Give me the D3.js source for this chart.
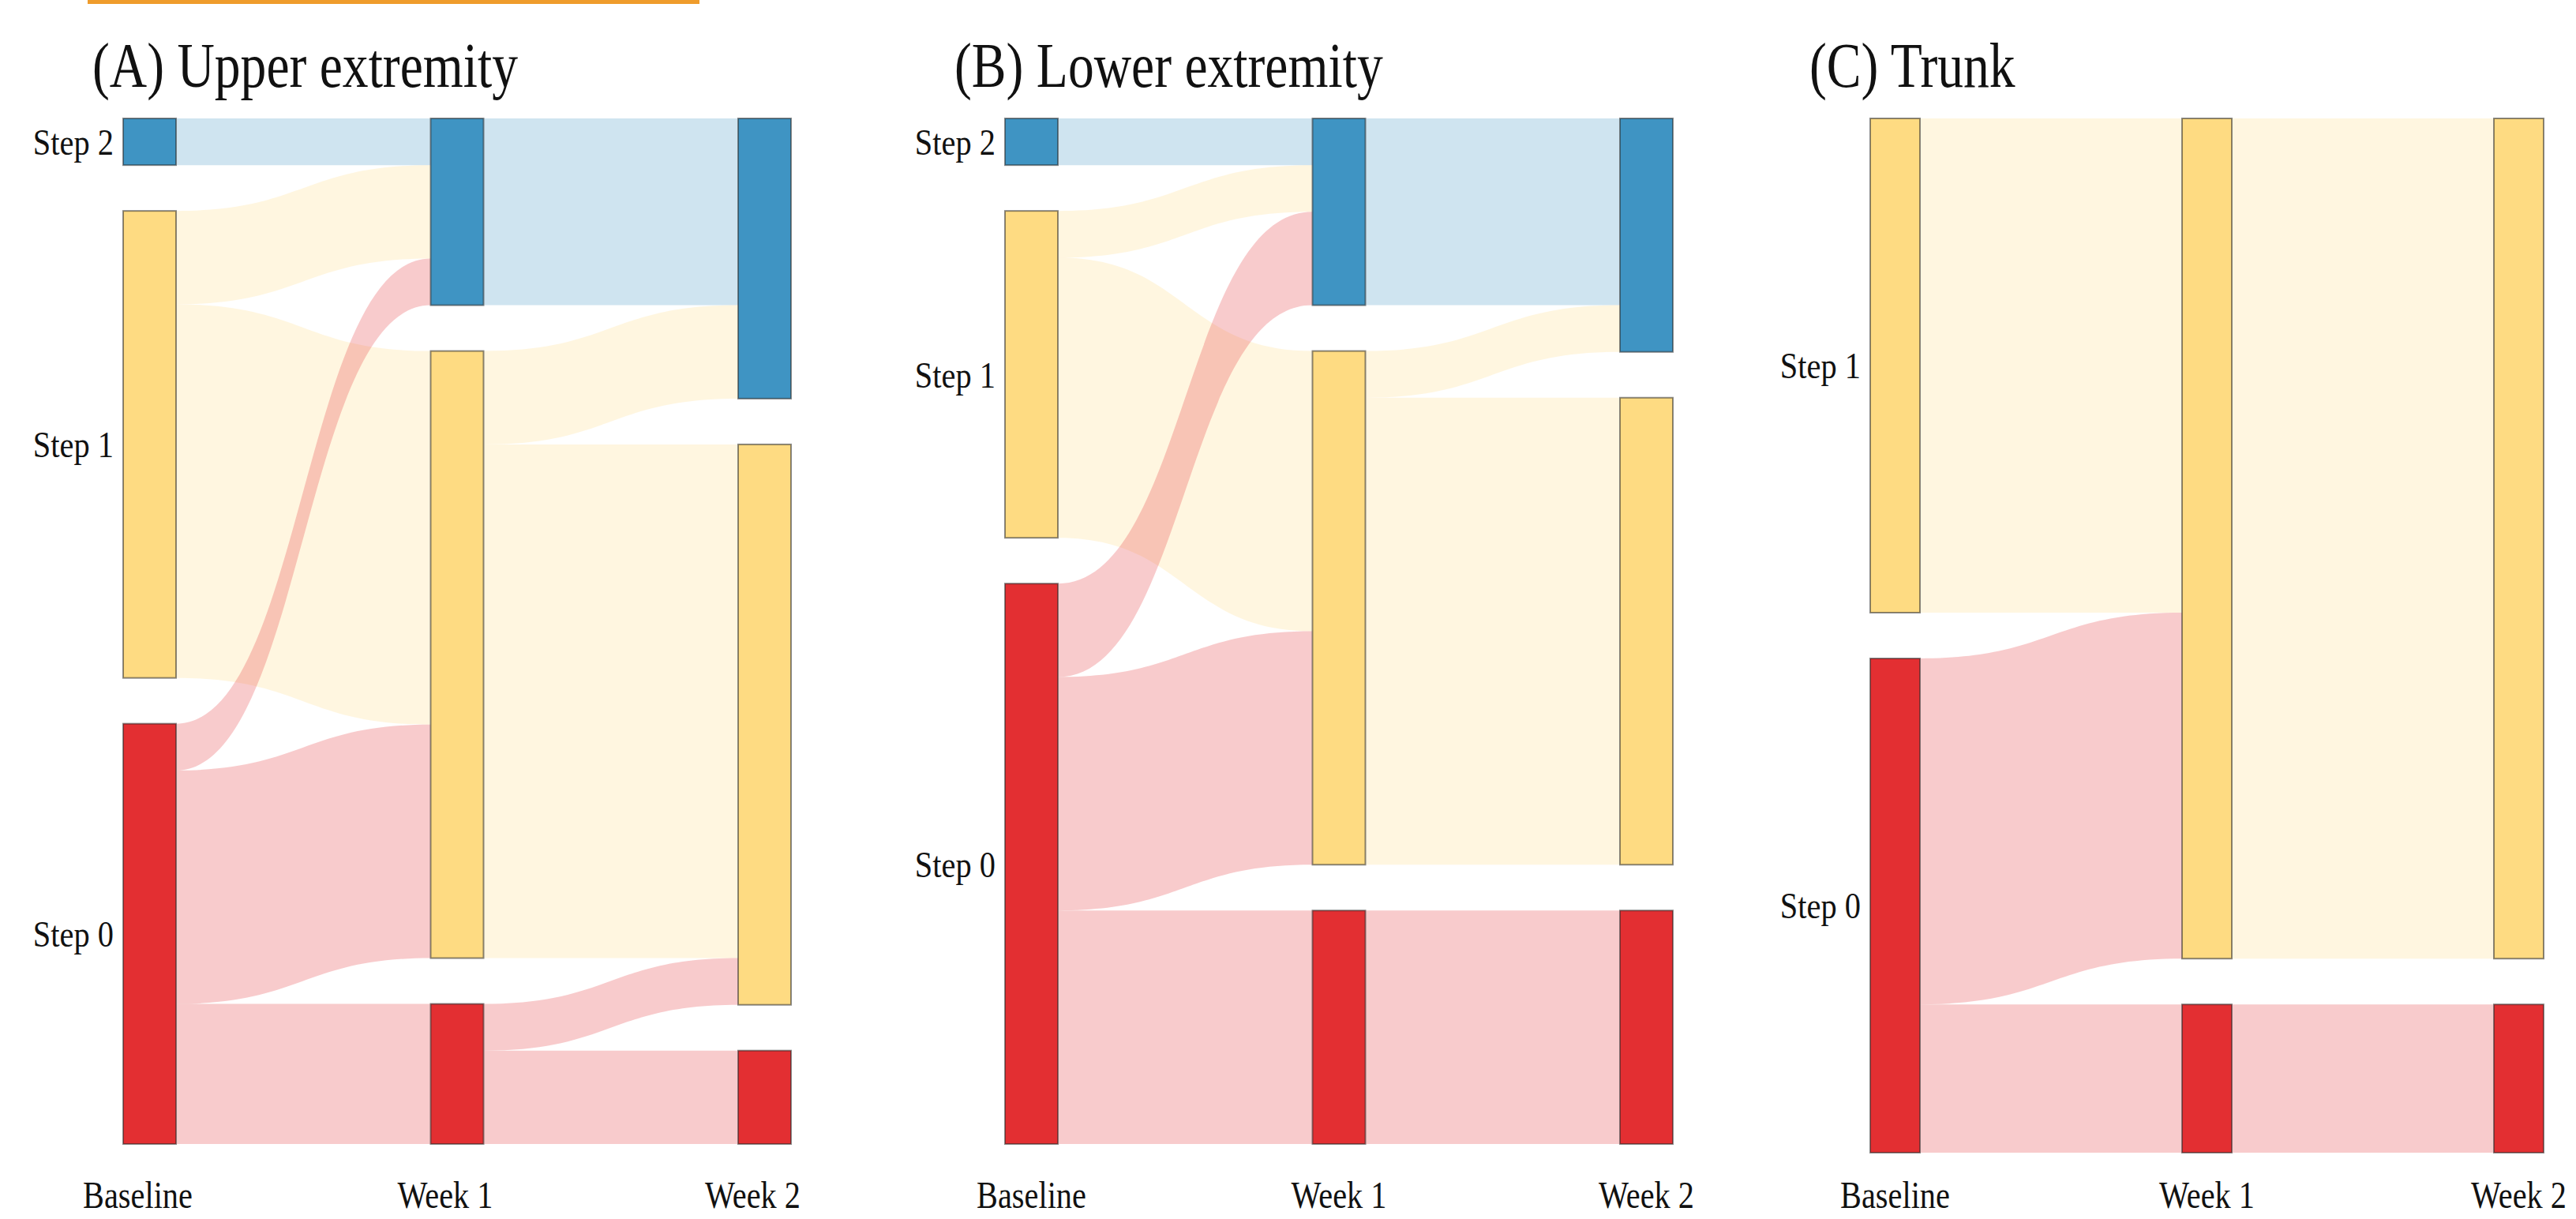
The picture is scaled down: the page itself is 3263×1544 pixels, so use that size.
<!DOCTYPE html>
<html>
<head>
<meta charset="utf-8">
<script src="https://cdn.jsdelivr.net/npm/d3@7"></script>
<style>
  body { margin: 0; background: #fff; }
</style>
</head>
<body>
<div id="chart"></div>
<script>
// columns and categories
var stages = ["Baseline", "Week 1", "Week 2"];
var steps = ["Step 2", "Step 1", "Step 0"];
var panelTitles = ["(A) Upper extremity", "(B) Lower extremity", "(C) Trunk"];

// transition counts: rows = from step (2,1,0), cols = to step (2,1,0)
var upperBaselineToWeek1 = [[2, 0, 0], [4, 16, 0], [2, 10, 6]];
var upperWeek1ToWeek2    = [[8, 0, 0], [4, 22, 0], [0, 2, 4]];
var lowerBaselineToWeek1 = [[2, 0, 0], [2, 12, 0], [4, 10, 10]];
var lowerWeek1ToWeek2    = [[8, 0, 0], [2, 20, 0], [0, 0, 10]];
var trunkBaselineToWeek1 = [[0, 0, 0], [0, 20, 0], [0, 14, 6]];
var trunkWeek1ToWeek2    = [[0, 0, 0], [0, 34, 0], [0, 0, 6]];

// colours per step
var nodeColors = ["#3f94c3", "#fedb82", "#e32f32"];

var width = 3263, height = 1544;
var serif = "'Liberation Serif', 'Times New Roman', Times, 'DejaVu Serif', serif";

// where each panel sits on the page
var panels = [
  { title: panelTitles[0], flows: [upperBaselineToWeek1, upperWeek1ToWeek2],
    left: 156, right: 935, nodeWidth: 67, top: 150, bottom: 1449, titleX: 117, labelDx: -15 },
  { title: panelTitles[1], flows: [lowerBaselineToWeek1, lowerWeek1ToWeek2],
    left: 1273, right: 2052, nodeWidth: 67, top: 150, bottom: 1449, titleX: 1209, labelDx: 0 },
  { title: panelTitles[2], flows: [trunkBaselineToWeek1, trunkWeek1ToWeek2],
    left: 2369, right: 3159, nodeWidth: 63, top: 150, bottom: 1460, titleX: 2292, labelDx: 0 }
];
var nodePad = 58;

var svg = d3.select("#chart")
  .append("svg")
  .attr("width", width)
  .attr("height", height);

svg.append("rect").attr("width", width).attr("height", height).attr("fill", "#fff");

// orange rule at the very top
svg.append("rect")
  .attr("x", 111).attr("y", 0)
  .attr("width", 775).attr("height", 5)
  .attr("fill", "#ef9c2c");

panels.forEach(function(p) {
  var g = svg.append("g");

  // node values for each column
  var colValues = stages.map(function(s, c) {
    return steps.map(function(st, i) {
      if (c < stages.length - 1) return d3.sum(p.flows[c][i]);
      return d3.sum(p.flows[c - 1], function(row) { return row[i]; });
    });
  });

  var total = d3.sum(colValues[0]);
  var maxNodes = d3.max(colValues, function(v) { return v.filter(function(d) { return d > 0; }).length; });

  var x = d3.scalePoint().domain(stages).range([p.left, p.right]);
  var y = d3.scaleLinear()
    .domain([0, total])
    .range([0, (p.bottom - p.top) - (maxNodes - 1) * nodePad]);

  // stack nodes in each column
  var nodes = {};
  stages.forEach(function(s, c) {
    var y0 = p.top;
    steps.forEach(function(st, i) {
      var v = colValues[c][i];
      if (v <= 0) return;
      nodes[c + "-" + i] = { col: c, step: i, value: v, x0: x(s), x1: x(s) + p.nodeWidth,
                             y0: y0, y1: y0 + y(v), outY: y0, inY: y0 };
      y0 += y(v) + nodePad;
    });
  });

  // links
  var links = [];
  p.flows.forEach(function(m, c) {
    steps.forEach(function(a, i) {
      steps.forEach(function(b, j) {
        var v = m[i][j];
        if (v > 0) links.push({ c: c, i: i, j: j, value: v });
      });
    });
  });
  // source offsets (ordered by target), then target offsets (ordered by source)
  links.forEach(function(l) {
    var s = nodes[l.c + "-" + l.i];
    l.sy0 = s.outY; l.sy1 = s.outY + y(l.value); s.outY = l.sy1;
  });
  d3.sort(links, function(l) { return l.c; }, function(l) { return l.j; }, function(l) { return l.i; })
    .forEach(function(l) {
      var t = nodes[(l.c + 1) + "-" + l.j];
      l.ty0 = t.inY; l.ty1 = t.inY + y(l.value); t.inY = l.ty1;
    });

  g.selectAll(".link")
    .data(links)
    .enter().append("path")
    .attr("class", "link")
    .attr("d", function(l) {
      var x0 = x(stages[l.c]) + p.nodeWidth, x1 = x(stages[l.c + 1]);
      var xm = (x0 + x1) / 2;
      var path = d3.path();
      path.moveTo(x0, l.sy0);
      path.bezierCurveTo(xm, l.sy0, xm, l.ty0, x1, l.ty0);
      path.lineTo(x1, l.ty1);
      path.bezierCurveTo(xm, l.ty1, xm, l.sy1, x0, l.sy1);
      path.closePath();
      return path.toString();
    })
    .attr("fill", function(l) { return nodeColors[l.i]; })
    .attr("fill-opacity", 0.25);

  g.selectAll(".node")
    .data(Object.values(nodes))
    .enter().append("rect")
    .attr("class", "node")
    .attr("x", function(d) { return d.x0; })
    .attr("y", function(d) { return d.y0; })
    .attr("width", function(d) { return d.x1 - d.x0; })
    .attr("height", function(d) { return d.y1 - d.y0; })
    .attr("fill", function(d) { return nodeColors[d.step]; })
    .attr("stroke", "rgba(40,40,40,0.55)")
    .attr("stroke-width", 2);

  // step labels at the left of the baseline column
  g.selectAll(".step-label")
    .data(Object.values(nodes).filter(function(d) { return d.col === 0; }))
    .enter().append("text")
    .attr("class", "step-label")
    .attr("transform", function(d) {
      return "translate(" + (d.x0 - 12) + "," + ((d.y0 + d.y1) / 2) + ") scale(0.86,1)";
    })
    .attr("dy", "0.35em")
    .attr("text-anchor", "end")
    .attr("font-family", serif)
    .attr("font-size", "47px")
    .attr("fill", "#111")
    .text(function(d) { return steps[d.step]; });

  // column labels
  g.selectAll(".stage-label")
    .data(stages)
    .enter().append("text")
    .attr("class", "stage-label")
    .attr("transform", function(d) {
      return "translate(" + (x(d) + p.nodeWidth / 2 + p.labelDx) + ",1530) scale(0.84,1)";
    })
    .attr("text-anchor", "middle")
    .attr("font-family", serif)
    .attr("font-size", "48px")
    .attr("fill", "#111")
    .text(function(d) { return d; });

  // panel title
  g.append("text")
    .attr("transform", "translate(" + p.titleX + ",110) scale(0.82,1)")
    .attr("font-family", serif)
    .attr("font-size", "80px")
    .attr("fill", "#111")
    .text(p.title);
});
</script>
</body>
</html>
